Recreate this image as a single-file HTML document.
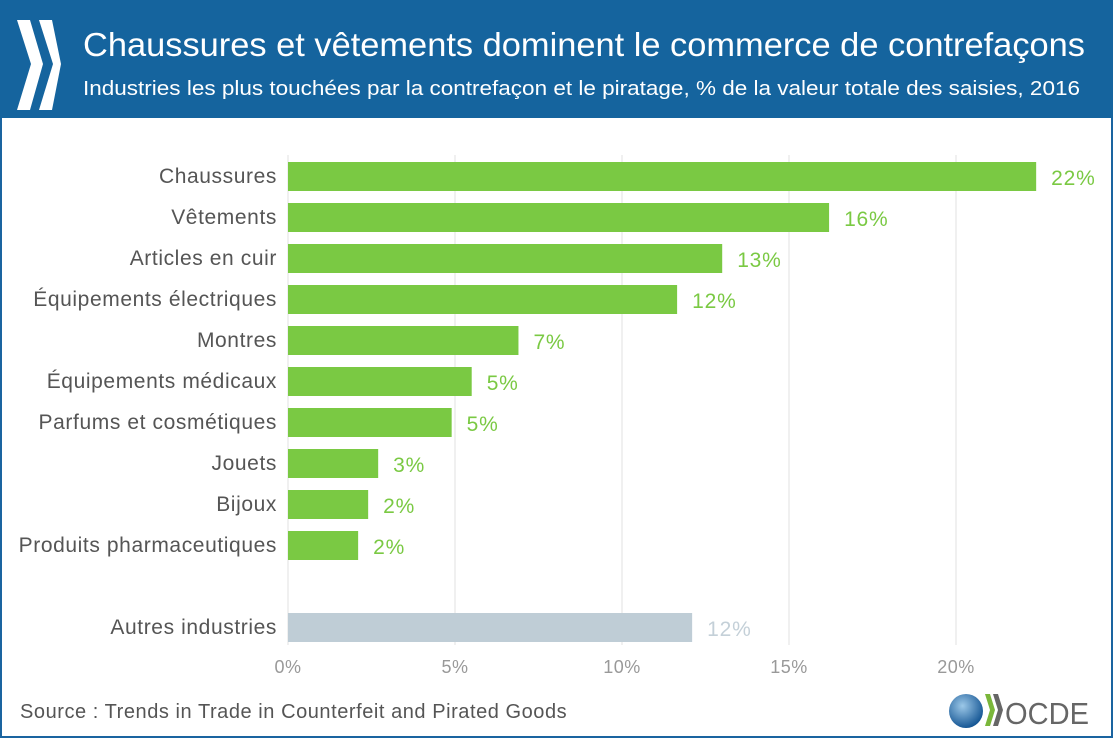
<!DOCTYPE html>
<html><head><meta charset="utf-8">
<style>
body{margin:0;width:1113px;height:740px;overflow:hidden;background:#fff;font-family:"Liberation Sans",sans-serif;}
#frame{position:absolute;left:0;top:0;width:1109px;height:736px;border:2px solid #1a64a0;border-top:none;}
#hdr{position:absolute;left:0;top:0;width:1113px;height:118px;background:#15649e;}
</style></head><body>
<div id="frame"></div>
<div id="hdr">
<svg width="1113" height="118" style="position:absolute;left:0;top:0">
<polygon points="17,20 30,20 43,64 30,110 17,110 31,64" fill="#fff"/>
<polygon points="39,20 52,20 61,64 52,110 39,110 53,64" fill="#fff"/>
<text x="83" y="56" font-size="33" fill="#fff" textLength="1002" lengthAdjust="spacingAndGlyphs">Chaussures et vêtements dominent le commerce de contrefaçons</text>
<text x="83" y="95" font-size="20" fill="#fff" textLength="997" lengthAdjust="spacingAndGlyphs">Industries les plus touchées par la contrefaçon et le piratage, % de la valeur totale des saisies, 2016</text>
</svg>
</div>
<svg id="chart" width="1113" height="740" style="position:absolute;left:0;top:0"></svg>
<div style="position:absolute;left:20px;top:701px;color:#555;font-size:20px;letter-spacing:0.55px;">Source : Trends in Trade in Counterfeit and Pirated Goods</div>
<svg width="160" height="50" style="position:absolute;left:945px;top:688px">
<defs><radialGradient id="g" cx="0.4" cy="0.35" r="0.7"><stop offset="0" stop-color="#9cc8e8"/><stop offset="1" stop-color="#0d4f8f"/></radialGradient></defs>
<circle cx="21" cy="23" r="17" fill="url(#g)"/>
<polygon points="40,6 45,6 50,22 45,38 40,38 45,22" fill="#7ab63a"/>
<polygon points="48,6 53,6 58,22 53,38 48,38 53,22" fill="#666"/>
<text x="60" y="36" font-size="31" fill="#666" font-family="Liberation Sans, sans-serif" textLength="84" lengthAdjust="spacingAndGlyphs">OCDE</text>
</svg>
<script>
const categories=["Chaussures","Vêtements","Articles en cuir","Équipements électriques","Montres","Équipements médicaux","Parfums et cosmétiques","Jouets","Bijoux","Produits pharmaceutiques","Autres industries"];
const values=[22.4,16.2,13.0,11.65,6.9,5.5,4.9,2.7,2.4,2.1,12.1];
const labels=["22%","16%","13%","12%","7%","5%","5%","3%","2%","2%","12%"];
const ticks=[0,5,10,15,20];
const tickLabels=["0%","5%","10%","15%","20%"];
const slots=[0,1,2,3,4,5,6,7,8,9,11];
const NS="http://www.w3.org/2000/svg";
const svg=document.getElementById('chart');
const x=v=>288+v*33.4;
const y=s=>176+s*41;
function mk(t,a){const e=document.createElementNS(NS,t);for(const k in a)e.setAttribute(k,a[k]);svg.appendChild(e);return e;}
ticks.forEach((t,i)=>{
 const l=mk('line',{x1:x(t),x2:x(t),y1:155,y2:645,stroke:'#e2e2e2','stroke-width':1});
 
 
 const tx=mk('text',{x:x(t),y:673,'text-anchor':'middle','font-size':18,'letter-spacing':0.5,fill:'#999'});
 tx.textContent=tickLabels[i];
 
 
});
values.forEach((v,i)=>{
 const other=i===values.length-1;
 const cy=y(slots[i]);
 const r=mk('rect',{x:x(0),y:cy-14,width:x(v)-x(0),height:29,fill:other?'#bfcdd6':'#7ac943'});
 
 
 const c=mk('text',{x:277,y:cy+7,'text-anchor':'end','font-size':21,'letter-spacing':0.6,fill:'#555'});
 c.textContent=categories[i];
 
 
 const vl=mk('text',{x:x(v)+15,y:cy+9,'font-size':21,'letter-spacing':0.8,fill:other?'#c4d0d8':'#7ac943'});
 vl.textContent=labels[i];
 
 
});
</script>
</body></html>
